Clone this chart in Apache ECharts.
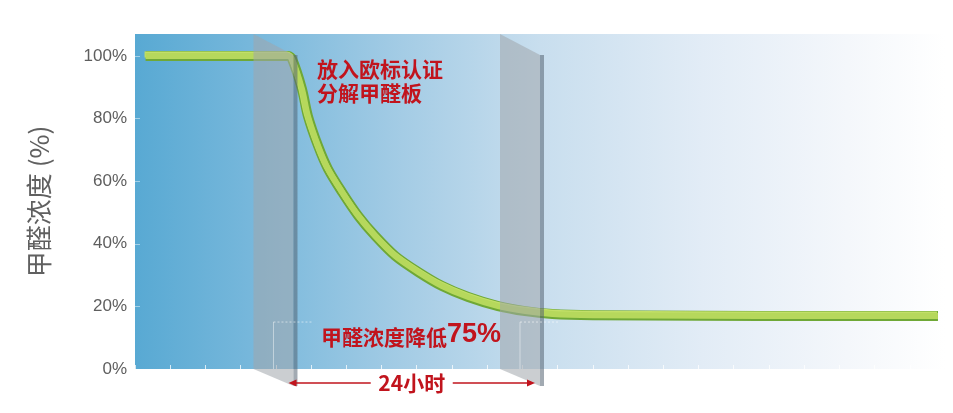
<!DOCTYPE html>
<html>
<head>
<meta charset="utf-8">
<script src="https://cdn.jsdelivr.net/npm/echarts@6/dist/echarts.min.js"></script>
<style>
html,body{margin:0;padding:0;background:#ffffff;}
#chart{width:953px;height:413px;}
</style>
</head>
<body>
<div id="chart"></div>
<script>
// ---- data ----
const yTickValues = [0, 20, 40, 60, 80, 100];
const curveX = [0.3, 4.35, 4.46, 4.74, 4.91, 5.20, 5.48, 5.88, 6.34, 6.82, 7.39, 8.04, 8.72, 9.46, 10.31, 11.08, 11.85, 13.0, 16.0, 19.5, 22.8];
const curveY = [100, 100, 99, 89.5, 80.8, 71.2, 63.9, 56.5, 48.9, 42.5, 36.1, 31.0, 26.5, 23.0, 20.1, 18.5, 17.6, 17.2, 17.0, 16.9, 16.9];
const panelX = [4.5, 11.5];           // start of treatment, 24 h later
const guideY = 15;                    // faint guide level near the panels
const yAxisName = '甲醛浓度 (%)';
const noteTop = ['放入欧标认证', '分解甲醛板'];
const noteBottomText = '甲醛浓度降低';
const noteBottomValue = '75%';
const spanLabel = '24小时';

const curve = curveX.map((x, i) => [x, curveY[i]]);
const RED = '#c1141d';
const CJK = "'Noto Sans CJK SC', sans-serif";

const chart = echarts.init(document.getElementById('chart'), null, {renderer: 'canvas'});

const option = {
  animation: false,
  grid: {
    left: 135, right: 8, top: 34, bottom: 44,
    show: true, borderWidth: 0,
    backgroundColor: {
      type: 'linear', x: 0, y: 0, x2: 1, y2: 0,
      colorStops: [
        {offset: 0, color: '#58a9d3'},
        {offset: 0.14, color: '#76b7db'},
        {offset: 0.33, color: '#a4cce5'},
        {offset: 0.5, color: '#c8deee'},
        {offset: 0.7, color: '#e2ecf6'},
        {offset: 0.88, color: '#f4f7fb'},
        {offset: 1, color: '#ffffff'}
      ]
    }
  },
  xAxis: {
    type: 'value', min: 0, max: 23, interval: 1,
    axisLine: {show: false},
    axisTick: {show: true, inside: true, length: 4, lineStyle: {color: 'rgba(255,255,255,0.75)', width: 1}},
    axisLabel: {show: false},
    splitLine: {show: false}
  },
  yAxis: {
    type: 'value', min: 0, max: 107,
    name: yAxisName,
    nameLocation: 'middle',
    nameGap: 83,
    nameTextStyle: {fontSize: 26, color: '#606060', fontFamily: CJK},
    axisLine: {show: false},
    axisTick: {show: true, inside: true, length: 5, customValues: yTickValues,
      lineStyle: {color: 'rgba(255,255,255,0.45)', width: 1}},
    axisLabel: {show: true, customValues: yTickValues, formatter: '{value}%', color: '#5e5e5e',
      fontSize: 17, fontFamily: "'Liberation Sans', Arial, sans-serif", margin: 8},
    splitLine: {show: false}
  },
  series: [
    {
      name: 'ribbon-base',
      type: 'line', data: curve, z: 2,
      showSymbol: false, smooth: 0.3,
      lineStyle: {color: '#6fa836', width: 10, cap: 'butt', join: 'round'}
    },
    {
      name: 'ribbon-top',
      type: 'line', data: curve, z: 3,
      showSymbol: false, smooth: 0.3,
      lineStyle: {color: '#b6d85c', width: 6, cap: 'butt', join: 'round',
        shadowColor: '#c2df68', shadowBlur: 0, shadowOffsetX: -1, shadowOffsetY: -1.5}
    },
    {
      name: 'panels',
      type: 'custom', z: 5, clip: false, silent: true,
      data: panelX.map(x => [x]),
      encode: {x: 0},
      renderItem(params, api) {
        const cs = params.coordSys;
        const fx = api.coord([api.value(0), 0])[0];
        const top = cs.y, bottom = cs.y + cs.height;
        const depth = 40, bx = fx - depth;
        const dTop = 21, dBot = 17;
        const gy = api.coord([0, guideY])[1];
        return {
          type: 'group',
          children: [
            {type: 'polygon', shape: {points: [[bx, top], [fx, top + dTop], [fx, bottom + dBot], [bx, bottom]]},
             style: {fill: 'rgba(160,166,172,0.55)'}},
            {type: 'rect', shape: {x: fx, y: top + dTop, width: 4, height: bottom + dBot - top - dTop},
             style: {fill: 'rgba(85,100,114,0.55)'}},
            {type: 'line', shape: {x1: bx + 20, y1: gy, x2: bx + 20, y2: bottom},
             style: {stroke: 'rgba(255,255,255,0.45)', lineWidth: 1}},
            {type: 'line', shape: {x1: bx + 20, y1: gy, x2: fx + 18, y2: gy},
             style: {stroke: 'rgba(255,255,255,0.55)', lineWidth: 1, lineDash: [2, 2]}}
          ]
        };
      }
    },
    {
      name: 'span-arrow',
      type: 'custom', z: 6, clip: false, silent: true,
      data: [[panelX[0], panelX[1]]],
      encode: {x: [0, 1]},
      renderItem(params, api) {
        const cs = params.coordSys;
        const x1 = api.coord([api.value(0), 0])[0] - 5;
        const x2 = api.coord([api.value(1), 0])[0] - 5;
        const y = cs.y + cs.height + 14;
        const mid = (x1 + x2) / 2;
        const half = 41;
        const ah = 8, aw = 3.5;
        return {
          type: 'group',
          children: [
            {type: 'line', shape: {x1: x1 + 4, y1: y, x2: mid - half, y2: y}, style: {stroke: RED, lineWidth: 1.6}},
            {type: 'line', shape: {x1: mid + half, y1: y, x2: x2 - 4, y2: y}, style: {stroke: RED, lineWidth: 1.6}},
            {type: 'polygon', shape: {points: [[x1, y], [x1 + ah, y - aw], [x1 + ah, y + aw]]}, style: {fill: RED}},
            {type: 'polygon', shape: {points: [[x2, y], [x2 - ah, y - aw], [x2 - ah, y + aw]]}, style: {fill: RED}},
            {type: 'text', x: mid, y: y,
             style: {text: spanLabel, fill: RED, font: "bold 21px 'Noto Sans CJK SC', 'Liberation Sans', sans-serif",
                     align: 'center', verticalAlign: 'middle'}}
          ]
        };
      }
    }
  ],
  graphic: [
    {
      type: 'text', left: 317, top: 57, z: 10,
      style: {text: noteTop.join('\n'), fill: RED, font: "bold 21px 'Noto Sans CJK SC', sans-serif", lineHeight: 24}
    },
    {
      type: 'text', left: 321, top: 321, z: 10,
      style: {
        text: '{a|' + noteBottomText + '}{b|' + noteBottomValue + '}',
        rich: {
          a: {fill: RED, font: "bold 21px 'Noto Sans CJK SC', sans-serif", verticalAlign: 'bottom'},
          b: {fill: RED, font: "bold 27px 'Liberation Sans', Arial, sans-serif", verticalAlign: 'bottom'}
        }
      }
    }
  ]
};

chart.setOption(option);
</script>
</body>
</html>
